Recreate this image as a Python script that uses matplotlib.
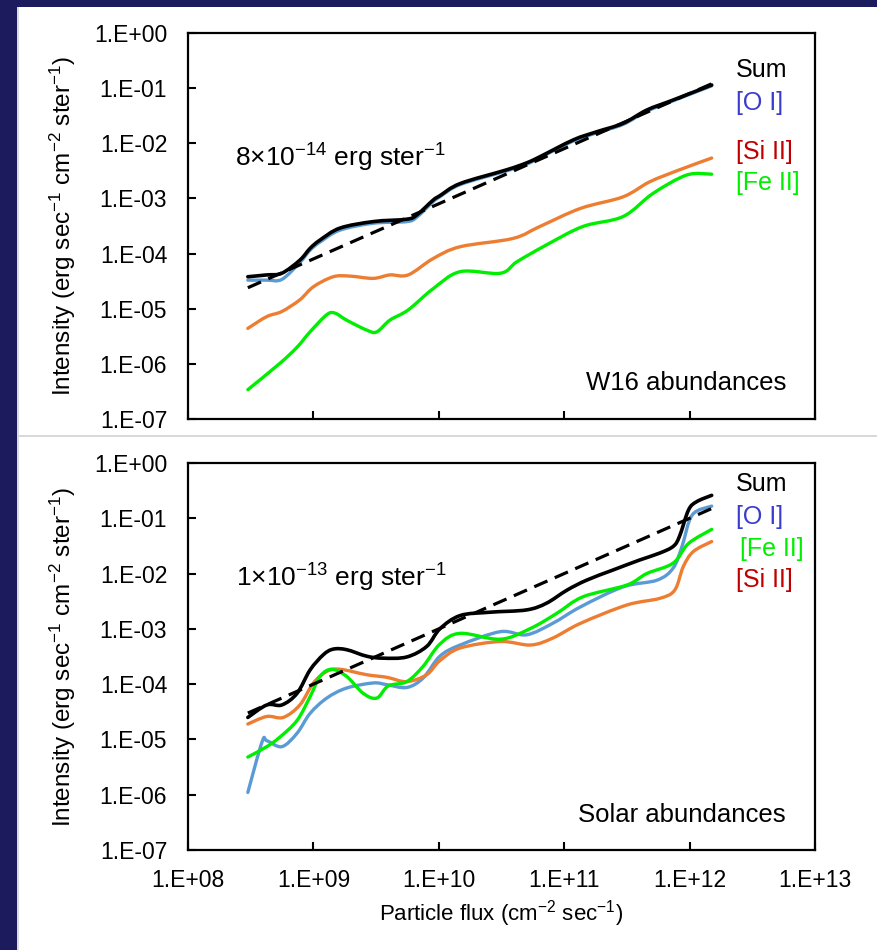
import numpy as np
import matplotlib.pyplot as plt
from matplotlib.path import Path
from matplotlib.patches import PathPatch, Rectangle
from matplotlib.ticker import FixedLocator, FuncFormatter, NullLocator

plt.rcParams['font.family'] = ['Liberation Sans', 'DejaVu Sans']
plt.rcParams['mathtext.fontset'] = 'custom'
plt.rcParams['mathtext.rm'] = 'Liberation Sans'
plt.rcParams['mathtext.it'] = 'Liberation Sans:italic'
plt.rcParams['mathtext.bf'] = 'Liberation Sans:bold'

# ---------------- W16 abundances (upper panel) ----------------
w16_sum_flux = [3.0e8, 4.25e8, 5.6e8, 7.8e8, 9.4e8, 1.13e9, 1.63e9, 3.0e9, 5.55e9, 6.67e9, 9.0e9,
                1.02e10, 1.48e10, 3.47e10, 5.0e10, 6.4e10, 1.18e11, 1.82e11, 2.95e11, 4.55e11, 7.4e11, 1.5e12]
w16_sum = [3.8e-5, 4.1e-5, 4.4e-5, 7.6e-5, 1.24e-4, 1.76e-4, 2.9e-4, 3.8e-4, 4.2e-4, 5.0e-4, 9.3e-4,
           1.12e-3, 1.86e-3, 3.3e-3, 4.4e-3, 5.7e-3, 1.15e-2, 1.62e-2, 2.3e-2, 4.0e-2, 6.1e-2, 0.114]

w16_oi_flux = w16_sum_flux
w16_oi = [3.3e-5, 3.3e-5, 3.4e-5, 6.9e-5, 1.15e-4, 1.62e-4, 2.66e-4, 3.55e-4, 3.8e-4, 4.57e-4, 8.7e-4,
          1.07e-3, 1.78e-3, 3.16e-3, 4.17e-3, 5.5e-3, 1.1e-2, 1.55e-2, 2.2e-2, 3.8e-2, 5.9e-2, 0.11]

w16_si_flux = [3.0e8, 4.25e8, 5.6e8, 7.8e8, 1.0e9, 1.44e9, 1.96e9, 3.0e9, 4.07e9, 5.7e9, 9.0e9,
               1.48e10, 3.9e10, 6.4e10, 1.35e11, 2.95e11, 4.8e11, 8.3e11, 1.5e12]
w16_si = [4.4e-6, 7.2e-6, 8.9e-6, 1.45e-5, 2.5e-5, 3.8e-5, 3.9e-5, 3.55e-5, 4.1e-5, 4.1e-5, 8.1e-5,
          1.33e-4, 1.88e-4, 3.1e-4, 6.6e-4, 1.07e-3, 2.0e-3, 3.3e-3, 5.4e-3]

w16_fe_flux = [3.0e8, 5.4e8, 7.4e8, 9.4e8, 1.28e9, 1.49e9, 1.84e9, 2.66e9, 3.2e9, 4.07e9, 5.7e9,
               9.0e9, 1.48e10, 3.1e10, 4.2e10, 7.2e10, 1.41e11, 2.95e11, 5.1e11, 9.5e11, 1.5e12]
w16_fe = [3.4e-7, 1.02e-6, 2.0e-6, 3.8e-6, 7.8e-6, 8.3e-6, 6.2e-6, 4.1e-6, 3.8e-6, 6.2e-6, 9.5e-6,
          2.3e-5, 4.7e-5, 4.4e-5, 7.1e-5, 1.43e-4, 3.1e-4, 4.7e-4, 1.23e-3, 2.66e-3, 2.75e-3]

# ---------------- Solar abundances (lower panel) ----------------
sol_sum_flux = [3.0e8, 4.25e8, 5.6e8, 7.4e8, 9.4e8, 1.2e9, 1.44e9, 1.84e9, 2.66e9, 3.6e9, 5.55e9,
                8.0e9, 1.02e10, 1.48e10, 2.57e10, 5.0e10, 7.2e10, 1.05e11, 1.51e11, 2.45e11, 4.0e11,
                5.75e11, 7.4e11, 8.3e11, 9.8e11, 1.14e12, 1.5e12]
sol_sum = [2.5e-5, 4.2e-5, 4.2e-5, 6.8e-5, 1.8e-4, 3.4e-4, 4.3e-4, 4.2e-4, 3.2e-4, 2.95e-4, 3.1e-4,
           4.8e-4, 1.0e-3, 1.74e-3, 2.0e-3, 2.2e-3, 2.9e-3, 5.0e-3, 7.6e-3, 1.16e-2, 1.76e-2,
           2.34e-2, 3.1e-2, 4.7e-2, 0.141, 0.2, 0.26]

sol_oi_flux = [3.0e8, 3.9e8, 4.25e8, 5.6e8, 7.4e8, 9.4e8, 1.28e9, 1.84e9, 3.0e9, 3.84e9, 5.55e9,
               7.5e9, 1.02e10, 1.48e10, 3.1e10, 5.0e10, 8.1e10, 1.35e11, 2.95e11, 5.5e11, 7.4e11,
               8.7e11, 1.05e12, 1.5e12]
sol_oi = [1.1e-6, 9.1e-6, 9.5e-6, 7.4e-6, 1.29e-5, 2.95e-5, 5.6e-5, 8.5e-5, 1.05e-4, 9.8e-5, 8.7e-5,
          1.29e-4, 3.2e-4, 5.1e-4, 8.9e-4, 7.8e-4, 1.26e-3, 2.5e-3, 5.75e-3, 7.6e-3, 1.26e-2,
          3.1e-2, 0.115, 0.166]

sol_si_flux = [3.0e8, 4.25e8, 5.75e8, 7.8e8, 1.0e9, 1.28e9, 1.63e9, 2.66e9, 3.84e9, 5.55e9, 8.0e9,
               1.02e10, 1.48e10, 3.1e10, 5.4e10, 8.1e10, 1.35e11, 3.16e11, 5.75e11, 7.6e11, 8.9e11,
               1.07e12, 1.5e12]
sol_si = [1.9e-5, 2.6e-5, 2.5e-5, 4.2e-5, 1.05e-4, 1.7e-4, 1.86e-4, 1.48e-4, 1.33e-4, 1.11e-4, 1.48e-4,
          2.66e-4, 4.5e-4, 5.9e-4, 5.1e-4, 6.8e-4, 1.26e-3, 2.7e-3, 3.55e-3, 5.0e-3, 1.33e-2,
          2.5e-2, 3.8e-2]

sol_fe_flux = [3.0e8, 4.25e8, 5.4e8, 7.4e8, 9.4e8, 1.13e9, 1.4e9, 1.84e9, 2.5e9, 3.2e9, 3.96e9,
               5.55e9, 7.5e9, 1.02e10, 1.48e10, 3.1e10, 5.4e10, 8.7e10, 1.41e11, 3.16e11, 4.55e11,
               7.4e11, 9.8e11, 1.5e12]
sol_fe = [4.8e-6, 7.4e-6, 1.1e-5, 2.2e-5, 5.9e-5, 1.38e-4, 1.86e-4, 1.38e-4, 6.8e-5, 5.6e-5, 9.3e-5,
          1.11e-4, 2.1e-4, 5.3e-4, 8.3e-4, 6.5e-4, 1.02e-3, 1.9e-3, 3.8e-3, 6.2e-3, 1.0e-2,
          1.55e-2, 3.5e-2, 6.3e-2]

# linear fits, intensity = coefficient * flux (erg ster^-1)
fit_flux = np.array([3.0e8, 1.5e12])
w16_coef = 8e-14
sol_coef = 1e-13

NAVY = '#1b1b5e'
C_OI = '#5b9bd5'
C_SI = '#ed7d31'
C_FE = '#00ee00'

W, H = 878, 950


def fx(px):
    return px / W


def fy(py):
    return 1 - py / H


def smooth_line(ax, x, y, color, lw):
    # smoothed line like a spreadsheet chart: Catmull-Rom segments as cubic Beziers in log-log space
    lx = np.log10(x)
    ly = np.log10(y)
    n = len(lx)
    verts = [(lx[0], ly[0])]
    codes = [Path.MOVETO]
    for i in range(n - 1):
        i0 = max(i - 1, 0)
        i3 = min(i + 2, n - 1)
        c1 = (lx[i] + (lx[i + 1] - lx[i0]) / 6, ly[i] + (ly[i + 1] - ly[i0]) / 6)
        c2 = (lx[i + 1] - (lx[i3] - lx[i]) / 6, ly[i + 1] - (ly[i3] - ly[i]) / 6)
        verts += [c1, c2, (lx[i + 1], ly[i + 1])]
        codes += [Path.CURVE4] * 3
    verts = 10 ** np.array(verts)
    ax.add_patch(PathPatch(Path(verts, codes), fill=False, edgecolor=color, lw=lw,
                           capstyle='round', joinstyle='round'))


def fmt_exp(v, pos):
    return '1.E{:+03d}'.format(int(round(np.log10(v))))


def setup_axes(ax, show_x):
    ax.set_xscale('log')
    ax.set_yscale('log')
    ax.set_xlim(1e8, 1e13)
    ax.set_ylim(1e-7, 1)
    ax.xaxis.set_major_locator(FixedLocator(10.0 ** np.arange(8, 14)))
    ax.yaxis.set_major_locator(FixedLocator(10.0 ** np.arange(-7, 1)))
    ax.xaxis.set_minor_locator(NullLocator())
    ax.yaxis.set_minor_locator(NullLocator())
    ax.xaxis.set_major_formatter(FuncFormatter(fmt_exp))
    ax.yaxis.set_major_formatter(FuncFormatter(fmt_exp))
    ax.tick_params(direction='in', length=6, width=1.5, labelsize=16.5, colors='black')
    ax.tick_params(axis='y', pad=15)
    ax.tick_params(axis='x', pad=14, labelbottom=show_x)
    for s in ax.spines.values():
        s.set_linewidth(1.6)
        s.set_color('black')
    ax.set_ylabel(r'Intensity (erg sec$^{-1}$ cm$^{-2}$ ster$^{-1}$)', fontsize=17.5)
    ax.yaxis.set_label_coords(-0.176, 0.5)


fig = plt.figure(figsize=(W / 100, H / 100), dpi=100, facecolor=NAVY)

# white slide panels with a thin grey divider
fig.add_artist(Rectangle((fx(17), fy(435)), fx(W - 17), 428 / H, transform=fig.transFigure,
                         facecolor='white', edgecolor='none', zorder=0))
fig.add_artist(Rectangle((fx(17), 0), fx(W - 17), fy(437), transform=fig.transFigure,
                         facecolor='white', edgecolor='none', zorder=0))
fig.add_artist(Rectangle((fx(17), fy(437)), fx(W - 17), 2 / H, transform=fig.transFigure,
                         facecolor='#d9d9d9', edgecolor='none', zorder=0))
fig.add_artist(Rectangle((fx(17), 0), 2 / W, fy(7), transform=fig.transFigure,
                         facecolor='#dcdcdc', edgecolor='none', zorder=0))

ax1 = fig.add_axes([fx(188), fy(419), 627 / W, 386 / H])
ax2 = fig.add_axes([fx(188), fy(850), 627 / W, 387 / H])
setup_axes(ax1, False)
setup_axes(ax2, True)
ax2.set_xlabel(r'Particle flux (cm$^{-2}$ sec$^{-1}$)', fontsize=16)
ax2.xaxis.set_label_coords(0.5, -0.125)

smooth_line(ax1, w16_oi_flux, w16_oi, C_OI, 2.4)
smooth_line(ax1, w16_si_flux, w16_si, C_SI, 2.4)
smooth_line(ax1, w16_fe_flux, w16_fe, C_FE, 2.4)
smooth_line(ax1, w16_sum_flux, w16_sum, 'black', 2.6)
ax1.plot(fit_flux, w16_coef * fit_flux, color='black', lw=2.3, dashes=(4.5, 2.5))

smooth_line(ax2, sol_oi_flux, sol_oi, C_OI, 2.4)
smooth_line(ax2, sol_si_flux, sol_si, C_SI, 2.4)
smooth_line(ax2, sol_fe_flux, sol_fe, C_FE, 2.4)
smooth_line(ax2, sol_sum_flux, sol_sum, 'black', 2.6)
ax2.plot(fit_flux, sol_coef * fit_flux, color='black', lw=2.3, dashes=(4.5, 2.5))

# series names beside the line ends
lab = 18
fig.text(fx(736), fy(70), 'Sum', fontsize=lab, color='black', va='center')
fig.text(fx(736), fy(103), '[O I]', fontsize=lab, color='#3c3ccc', va='center')
fig.text(fx(736), fy(152), '[Si II]', fontsize=lab, color='#c00000', va='center')
fig.text(fx(736), fy(183), '[Fe II]', fontsize=lab, color='#00ee00', va='center')

fig.text(fx(736), fy(484), 'Sum', fontsize=lab, color='black', va='center')
fig.text(fx(736), fy(517), '[O I]', fontsize=lab, color='#3c3ccc', va='center')
fig.text(fx(740), fy(549), '[Fe II]', fontsize=lab, color='#00ee00', va='center')
fig.text(fx(736), fy(580), '[Si II]', fontsize=lab, color='#c00000', va='center')

fig.text(fx(235), fy(167), '8×10$^{-14}$ erg ster$^{-1}$', fontsize=19, va='baseline')
fig.text(fx(236), fy(587), '1×10$^{-13}$ erg ster$^{-1}$', fontsize=19, va='baseline')

fig.text(fx(786), fy(383), 'W16 abundances', fontsize=18.5, ha='right', va='center')
fig.text(fx(786), fy(815), 'Solar abundances', fontsize=18.5, ha='right', va='center')

fig.savefig('out.png', dpi=100, facecolor=fig.get_facecolor())
